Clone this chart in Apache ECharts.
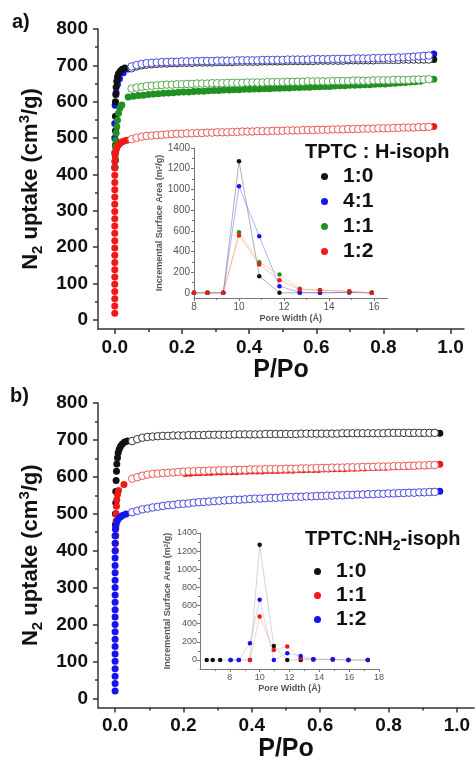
<!DOCTYPE html>
<html>
<head>
<meta charset="utf-8">
<script src="https://cdn.jsdelivr.net/npm/echarts@6/dist/echarts.min.js"></script>
<style>html,body{margin:0;padding:0;background:#fff}#view{width:476px;height:761px}</style>
</head>
<body>
<div id="view"></div>
<script>
var FONT = '"Liberation Sans", Arial, sans-serif';

/* tick values */
var mainXTicks = [0, 0.2, 0.4, 0.6, 0.8, 1.0];
var mainXMinor = [0.1, 0.3, 0.5, 0.7, 0.9];
var mainYTicks = [0, 100, 200, 300, 400, 500, 600, 700, 800];
var mainYMinor = [50, 150, 250, 350, 450, 550, 650, 750];
var insetYTicks = [0, 200, 400, 600, 800, 1000, 1200, 1400];
var insetYMinor = [100, 300, 500, 700, 900, 1100, 1300];
var insetAXTicks = [8, 10, 12, 14, 16];
var insetAXMinor = [9, 11, 13, 15];
var insetBXTicks = [8, 10, 12, 14, 16, 18];
var insetBXMinor = [7, 9, 11, 13, 15, 17];

/* P/Po of the desorption points (open circles) */
var desP = [
  0.05, 0.065, 0.08, 0.095, 0.11, 0.125, 0.14, 0.155, 0.17, 0.185,
  0.2, 0.215, 0.23, 0.245, 0.26, 0.275, 0.29, 0.305, 0.32, 0.335,
  0.35, 0.365, 0.38, 0.395, 0.41, 0.425, 0.44, 0.455, 0.47, 0.485,
  0.5, 0.515, 0.53, 0.545, 0.56, 0.575, 0.59, 0.605, 0.62, 0.635,
  0.65, 0.665, 0.68, 0.695, 0.71, 0.725, 0.74, 0.755, 0.77, 0.785,
  0.8, 0.815, 0.83, 0.845, 0.86, 0.875, 0.89, 0.905, 0.92, 0.935
];
/* P/Po of the plateau adsorption points (filled) */
var adsP = [
  0.04, 0.055, 0.07, 0.085, 0.1, 0.115, 0.13, 0.145, 0.16, 0.175,
  0.19, 0.205, 0.22, 0.235, 0.25, 0.265, 0.28, 0.295, 0.31, 0.325,
  0.34, 0.355, 0.37, 0.385, 0.4, 0.415, 0.43, 0.445, 0.46, 0.475,
  0.49, 0.505, 0.52, 0.535, 0.55, 0.565, 0.58, 0.595, 0.61, 0.625,
  0.64, 0.655, 0.67, 0.685, 0.7, 0.715, 0.73, 0.745, 0.76, 0.775,
  0.79, 0.805, 0.82, 0.835, 0.85, 0.865, 0.88, 0.895, 0.91, 0.95
];

/* ---- panel a : TPTC : H-isoph ---- */
var aDes10 = [692,697,700,702,703,704,705,705,706,706, 707,707,707,708,708,708,708,709,709,709,
  709,710,710,710,710,710,711,711,711,711, 711,712,712,712,712,712,712,713,713,713,
  713,713,713,714,714,714,714,714,714,715, 715,715,715,715,716,716,716,716,716,716];
var aDes41 = [697,701,704,706,707,708,709,709,710,710, 711,711,711,712,712,712,712,713,713,713,
  713,714,714,714,714,714,715,715,715,715, 715,716,716,716,716,716,717,717,717,717,
  718,718,718,718,719,719,719,719,720,720, 720,721,721,722,722,723,724,725,726,727];
var aDes11 = [636,639,641,643,644,645,646,647,647,648, 648,649,649,650,650,650,651,651,651,652,
  652,652,652,653,653,653,653,654,654,654, 654,655,655,655,655,656,656,656,656,656,
  657,657,657,657,658,658,658,658,659,659, 659,659,660,660,660,660,661,661,661,662];
var aDes12 = [497,501,504,506,507,508,509,510,511,512, 512,513,513,514,514,515,515,516,516,516,
  517,517,518,518,518,519,519,519,520,520, 520,521,521,521,522,522,522,523,523,523,
  524,524,524,525,525,525,526,526,526,527, 527,527,528,528,529,529,529,530,530,531];
var aAds11 = [613,615,617,618,620,621,622,623,624,625, 626,627,627,628,629,629,630,631,631,632,
  632,633,633,634,634,635,635,636,636,637, 637,638,638,639,639,640,640,641,641,642,
  642,643,644,644,645,645,646,647,647,648, 649,649,650,651,652,653,654,655,656,662];
var aAds10Low = [[0.002,440],[0.002,480],[0.002,520],[0.002,560],[0.002,600],[0.003,620],[0.004,640],
  [0.006,656],[0.008,668],[0.011,677],[0.016,684],[0.022,689],[0.03,693],[0.672,713],[0.905,716],[0.95,716]];
var aAds41Low = [[0,420],[0,460],[0,500],[0,540],[0.001,590],[0.004,625],[0.008,648],[0.014,663],
  [0.025,680],[0.04,690],[0.925,727],[0.95,731]];
var aAds11Low = [[0.001,420],[0.002,440],[0.002,460],[0.002,476],[0.003,494],[0.004,514],[0.006,531],
  [0.008,549],[0.011,568],[0.015,582],[0.021,591]];
var aAds12Low = [[0,18],[0,38],[0,58],[0,78],[0,98],[0,118],[0,138],[0,158],[0,178],[0,198],[0,218],
  [0,238],[0,258],[0,278],[0,298],[0,318],[0,338],[0,358],[0,378],[0,398],[0,418],[0,436],
  [0.001,452],[0.003,464],[0.006,473],[0.01,480],[0.015,485],[0.021,489],[0.028,492],[0.036,494],
  [0.92,530],[0.95,532]];

/* inset a : pore size distribution */
var poreA = [8.0, 8.6, 9.3, 10.0, 10.9, 11.8, 12.7, 13.6, 14.9, 15.9];
var psdA10 = [0, 0, 0, 1271, 161, 0, 0, 0, 3, 0];
var psdA41 = [0, 0, 0, 1030, 547, 64, 6, 0, 5, 0];
var psdA11 = [0, 0, 0, 586, 296, 177, 39, 25, 15, 0];
var psdA12 = [0, 0, 0, 553, 274, 122, 32, 26, 13, 0];

/* ---- panel b : TPTC:NH2-isoph ---- */
var bDes10 = [697,702,706,708,709,710,711,711,712,712, 712,713,713,713,713,714,714,714,714,714,
  715,715,715,715,715,715,716,716,716,716, 716,716,716,717,717,717,717,717,717,717,
  717,718,718,718,718,718,718,718,718,718, 719,719,719,719,719,719,719,719,719,719];
var bDes11 = [595,599,603,606,608,609,610,611,612,613, 614,615,615,616,616,617,617,618,618,618,
  619,619,619,620,620,620,621,621,621,621, 622,622,622,623,623,623,624,624,624,625,
  625,625,626,626,626,627,627,627,628,628, 628,629,629,629,630,630,631,631,632,632];
var bDes12 = [504,508,512,514,517,519,521,523,524,526, 527,528,530,531,532,533,534,535,536,537,
  538,538,539,540,541,541,542,543,543,544, 545,545,546,546,547,547,548,548,549,549,
  550,550,551,551,552,552,553,553,554,554, 555,555,556,556,557,557,558,558,559,559];
var bAds11 = [null,null,null,null,null,null,null,null,null,null, null,609,610,611,611,612,612,613,613,614,
  614,614,615,615,616,616,616,617,617,617, 618,618,618,619,619,620,620,620,621,621,
  622,622,622,623,623,624,624,625,625,626, 626,627,627,628,628,629,629,630,630,634];
var bAds10Low = [[0.001,440],[0.001,470],[0.001,500],[0.002,530],[0.002,560],[0.003,590],[0.004,615],
  [0.005,635],[0.007,652],[0.009,665],[0.012,675],[0.016,683],[0.021,689],[0.028,694],[0.036,697],
  [0.678,717],[0.865,718],[0.9,718],[0.95,718]];
var bAds11Low = [[0.001,400],[0.001,420],[0.002,440],[0.002,460],[0.003,480],[0.003,500],[0.004,520],
  [0.005,538],[0.007,552],[0.01,563],[0.026,579]];
var bAds12Low = [[0,20],[0,40],[0,60],[0,80],[0,100],[0,120],[0,140],[0,160],[0,180],[0,200],[0,220],
  [0,240],[0,260],[0,280],[0,300],[0,320],[0,340],[0,360],[0,380],[0,400],[0,420],[0,440],
  [0.001,458],[0.003,470],[0.006,480],[0.01,487],[0.016,492],[0.023,496],[0.032,499],
  [0.925,559],[0.95,561]];

/* inset b */
var poreB10 = [6.45, 6.85, 7.35, 8.05, 8.6, 9.35, 10.0, 10.95, 11.85, 12.75, 13.6, 14.9, 15.95, 17.25];
var psdB10 = [0, 0, 0, 0, 0, 0, 1271, 155, 0, 0, 5, 5, 0, 0];
var poreB11 = [9.35, 10.0, 10.95, 11.85, 12.75, 13.6, 14.9, 15.95, 17.25];
var psdB11 = [0, 479, 110, 147, 18, 8, 5, 0, 0];
var poreB12 = [8.05, 8.6, 9.35, 10.0, 10.95, 11.85, 12.75, 13.6, 14.9, 15.95, 17.25];
var psdB12 = [0, 0, 184, 663, 0, 74, 44, 7, 7, 0, 0];

var BLACK = '#111111', BLUE = '#1414ee', GREEN = '#218f21', RED = '#f01818';

function pairs(xs, ys) {
  var out = [];
  xs.forEach(function (x, i) { if (ys[i] != null) out.push([x, ys[i]]); });
  return out;
}

/* an axis plus an invisible twin that only draws the minor ticks */
function axes(grid, pos, min, max, major, minor, st) {
  var line = { color: st.line, width: st.lineW };
  var main = {
    type: 'value', gridIndex: grid, position: pos, min: min, max: max,
    axisLine: { show: true, onZero: false, lineStyle: line },
    axisTick: { show: true, customValues: major, length: st.tick, lineStyle: line },
    axisLabel: { show: true, customValues: major, formatter: st.fmt, margin: st.margin,
      fontFamily: FONT, fontSize: st.size, fontWeight: st.weight, color: st.color },
    splitLine: { show: false }
  };
  if (st.name) {
    main.name = st.name;
    main.nameLocation = 'middle';
    main.nameGap = st.nameGap;
    main.nameTextStyle = st.nameStyle;
  }
  var twin = {
    type: 'value', gridIndex: grid, position: pos, min: min, max: max,
    axisLine: { show: false, onZero: false },
    axisTick: { show: true, customValues: minor, length: st.minorTick, lineStyle: line },
    axisLabel: { show: false }, splitLine: { show: false }
  };
  return [main, twin];
}

var mainStyle = { line: '#333', lineW: 1.5, tick: 5, minorTick: 3, margin: 9, size: 19, weight: 'bold', color: '#111' };
function withName(base, extra) { return Object.assign({}, base, extra); }

var yName = 'N{sub|2} uptake (cm{sup|3}/g)';
var yNameStyle = {
  fontFamily: FONT, fontSize: 22, fontWeight: 'bold', color: '#111', lineHeight: 28,
  rich: {
    sub: { fontFamily: FONT, fontSize: 15, fontWeight: 'bold', color: '#111', verticalAlign: 'bottom', lineHeight: 15 },
    sup: { fontFamily: FONT, fontSize: 15, fontWeight: 'bold', color: '#111', verticalAlign: 'top', lineHeight: 18 }
  }
};
var xNameStyle = { fontFamily: FONT, fontSize: 25, fontWeight: 'bold', color: '#111' };
var insetYName = 'Incremental Surface Area (m{sup|2}/g)';
function insetNameStyle(sz) {
  return { fontFamily: FONT, fontSize: sz, fontWeight: 'bold', color: '#555',
    rich: { sup: { fontFamily: FONT, fontSize: sz - 3, fontWeight: 'bold', color: '#555', verticalAlign: 'top', lineHeight: sz } } };
}
var fix1 = function (v) { return v.toFixed(1); };
var plain = function (v) { return String(v); };

var xAxes = [].concat(
  axes(0, 'bottom', -0.05, 1.04, mainXTicks, mainXMinor,
    withName(mainStyle, { fmt: fix1, name: 'P/Po', nameGap: 28, nameStyle: xNameStyle })),
  axes(1, 'bottom', 8, 16.6, insetAXTicks, insetAXMinor,
    { line: '#777', lineW: 1, tick: 3, minorTick: 2, margin: 4, size: 10, weight: 'normal', color: '#555', fmt: plain,
      name: 'Pore Width (Å)', nameGap: 16, nameStyle: insetNameStyle(9) }),
  axes(2, 'bottom', -0.05, 1.05, mainXTicks, mainXMinor,
    withName(mainStyle, { fmt: fix1, name: 'P/Po', nameGap: 28, nameStyle: xNameStyle })),
  axes(3, 'bottom', 6, 18, insetBXTicks, insetBXMinor,
    { line: '#777', lineW: 1, tick: 3, minorTick: 2, margin: 4, size: 9, weight: 'normal', color: '#555', fmt: plain,
      name: 'Pore Width (Å)', nameGap: 15, nameStyle: insetNameStyle(9) })
);
var yAxes = [].concat(
  axes(0, 'left', -25, 800, mainYTicks, mainYMinor,
    withName(mainStyle, { fmt: plain, margin: 10, name: yName, nameGap: 44, nameStyle: yNameStyle })),
  axes(1, 'left', -50, 1400, insetYTicks, insetYMinor,
    { line: '#777', lineW: 1, tick: 3, minorTick: 2, margin: 4, size: 10, weight: 'normal', color: '#555', fmt: plain,
      name: insetYName, nameGap: 29, nameStyle: insetNameStyle(9) }),
  axes(2, 'left', -25, 800, mainYTicks, mainYMinor,
    withName(mainStyle, { fmt: plain, margin: 10, name: yName, nameGap: 44, nameStyle: yNameStyle })),
  axes(3, 'left', -100, 1400, insetYTicks, insetYMinor,
    { line: '#777', lineW: 1, tick: 3, minorTick: 2, margin: 3, size: 9, weight: 'normal', color: '#555', fmt: plain,
      name: insetYName, nameGap: 28, nameStyle: insetNameStyle(9) })
);

/* main axes are 0,2,4,6; their twins only carry minor ticks */
function ads(name, ax, color, data) {
  return { type: 'scatter', name: name, xAxisIndex: ax, yAxisIndex: ax, data: data, symbolSize: 7,
    itemStyle: { color: color, opacity: 1 }, z: 2, silent: true };
}
function des(name, ax, color, data) {
  return { type: 'scatter', name: name, xAxisIndex: ax, yAxisIndex: ax, data: data, symbolSize: 7.5,
    itemStyle: { color: '#fff', borderColor: color, borderWidth: 1, opacity: 1 }, z: 3, silent: true };
}
function psd(name, ax, color, lineColor, data) {
  return { type: 'line', name: name, xAxisIndex: ax, yAxisIndex: ax, data: data, symbol: 'circle', symbolSize: 4.5,
    showSymbol: true, showAllSymbol: true, itemStyle: { color: color },
    lineStyle: { color: lineColor, width: 0.8 }, z: 4, silent: true };
}

var series = [
  /* panel a, adsorption (filled) */
  ads('a 4:1', 0, BLUE, aAds41Low),
  ads('a 1:0', 0, BLACK, aAds10Low),
  ads('a 1:1', 0, GREEN, aAds11Low.concat(pairs(adsP, aAds11))),
  ads('a 1:2', 0, RED, aAds12Low),
  /* panel a, desorption (open) */
  des('a 1:0 des', 0, '#333', pairs(desP, aDes10)),
  des('a 4:1 des', 0, '#4646e0', pairs(desP, aDes41)),
  des('a 1:1 des', 0, '#56a856', pairs(desP, aDes11)),
  des('a 1:2 des', 0, '#ea5656', pairs(desP, aDes12)),
  /* inset a */
  psd('a 1:0 psd', 2, BLACK, 'rgba(90,90,90,0.6)', pairs(poreA, psdA10)),
  psd('a 4:1 psd', 2, BLUE, 'rgba(90,90,255,0.6)', pairs(poreA, psdA41)),
  psd('a 1:1 psd', 2, GREEN, 'rgba(230,170,90,0.6)', pairs(poreA, psdA11)),
  psd('a 1:2 psd', 2, RED, 'rgba(240,150,110,0.6)', pairs(poreA, psdA12)),
  /* panel b, adsorption */
  ads('b 1:0', 4, BLACK, bAds10Low),
  ads('b 1:1', 4, RED, bAds11Low.concat(pairs(adsP, bAds11))),
  ads('b 1:2', 4, BLUE, bAds12Low),
  /* panel b, desorption */
  des('b 1:0 des', 4, '#333', pairs(desP, bDes10)),
  des('b 1:1 des', 4, '#ea5656', pairs(desP, bDes11)),
  des('b 1:2 des', 4, '#4646e0', pairs(desP, bDes12)),
  /* inset b */
  psd('b 1:0 psd', 6, BLACK, 'rgba(150,150,150,0.5)', pairs(poreB10, psdB10)),
  psd('b 1:1 psd', 6, RED, 'rgba(240,150,110,0.5)', pairs(poreB11, psdB11)),
  psd('b 1:2 psd', 6, BLUE, 'rgba(150,150,230,0.5)', pairs(poreB12, psdB12))
];

var legendText = { fontFamily: FONT, fontSize: 21, fontWeight: 'bold', color: '#111', lineHeight: 21, padding: [0, 0, 0, 10] };

var chart = echarts.init(document.getElementById('view'), null, { renderer: 'canvas' });
chart.setOption({
  animation: false,
  backgroundColor: '#fff',
  grid: [
    { left: 98, top: 29, width: 366, height: 300, outerBoundsMode: 'none' },
    { left: 194, top: 148, width: 193.5, height: 150, outerBoundsMode: 'none' },
    { left: 98, top: 403, width: 376, height: 304.5, outerBoundsMode: 'none' },
    { left: 200, top: 533, width: 179, height: 136, outerBoundsMode: 'none' }
  ],
  xAxis: xAxes,
  yAxis: yAxes,
  legend: [
    { data: ['a 1:0', 'a 4:1', 'a 1:1', 'a 1:2'], orient: 'vertical', left: 316, top: 161,
      itemWidth: 7, itemHeight: 7, itemGap: 4, icon: 'circle', selectedMode: false,
      formatter: function (n) { return n.slice(2); }, textStyle: legendText },
    { data: ['b 1:0', 'b 1:1', 'b 1:2'], orient: 'vertical', left: 309, top: 556,
      itemWidth: 7, itemHeight: 7, itemGap: 3, icon: 'circle', selectedMode: false,
      formatter: function (n) { return n.slice(2); }, textStyle: legendText }
  ],
  graphic: [
    { type: 'text', left: 12, top: 12, style: { text: 'a)', font: 'bold 20px ' + FONT, fill: '#111' } },
    { type: 'text', left: 10, top: 386, style: { text: 'b)', font: 'bold 20px ' + FONT, fill: '#111' } },
    { type: 'text', left: 305, top: 142, style: { text: 'TPTC : H-isoph', font: 'bold 20px ' + FONT, fill: '#111' } },
    { type: 'text', left: 305, top: 525, style: {
      text: 'TPTC:NH{s|2}-isoph', font: 'bold 20px ' + FONT, fill: '#111', lineHeight: 28,
      rich: { s: { font: 'bold 14px ' + FONT, fill: '#111', verticalAlign: 'bottom', lineHeight: 14 } } } }
  ],
  series: series
});
</script>
</body>
</html>
